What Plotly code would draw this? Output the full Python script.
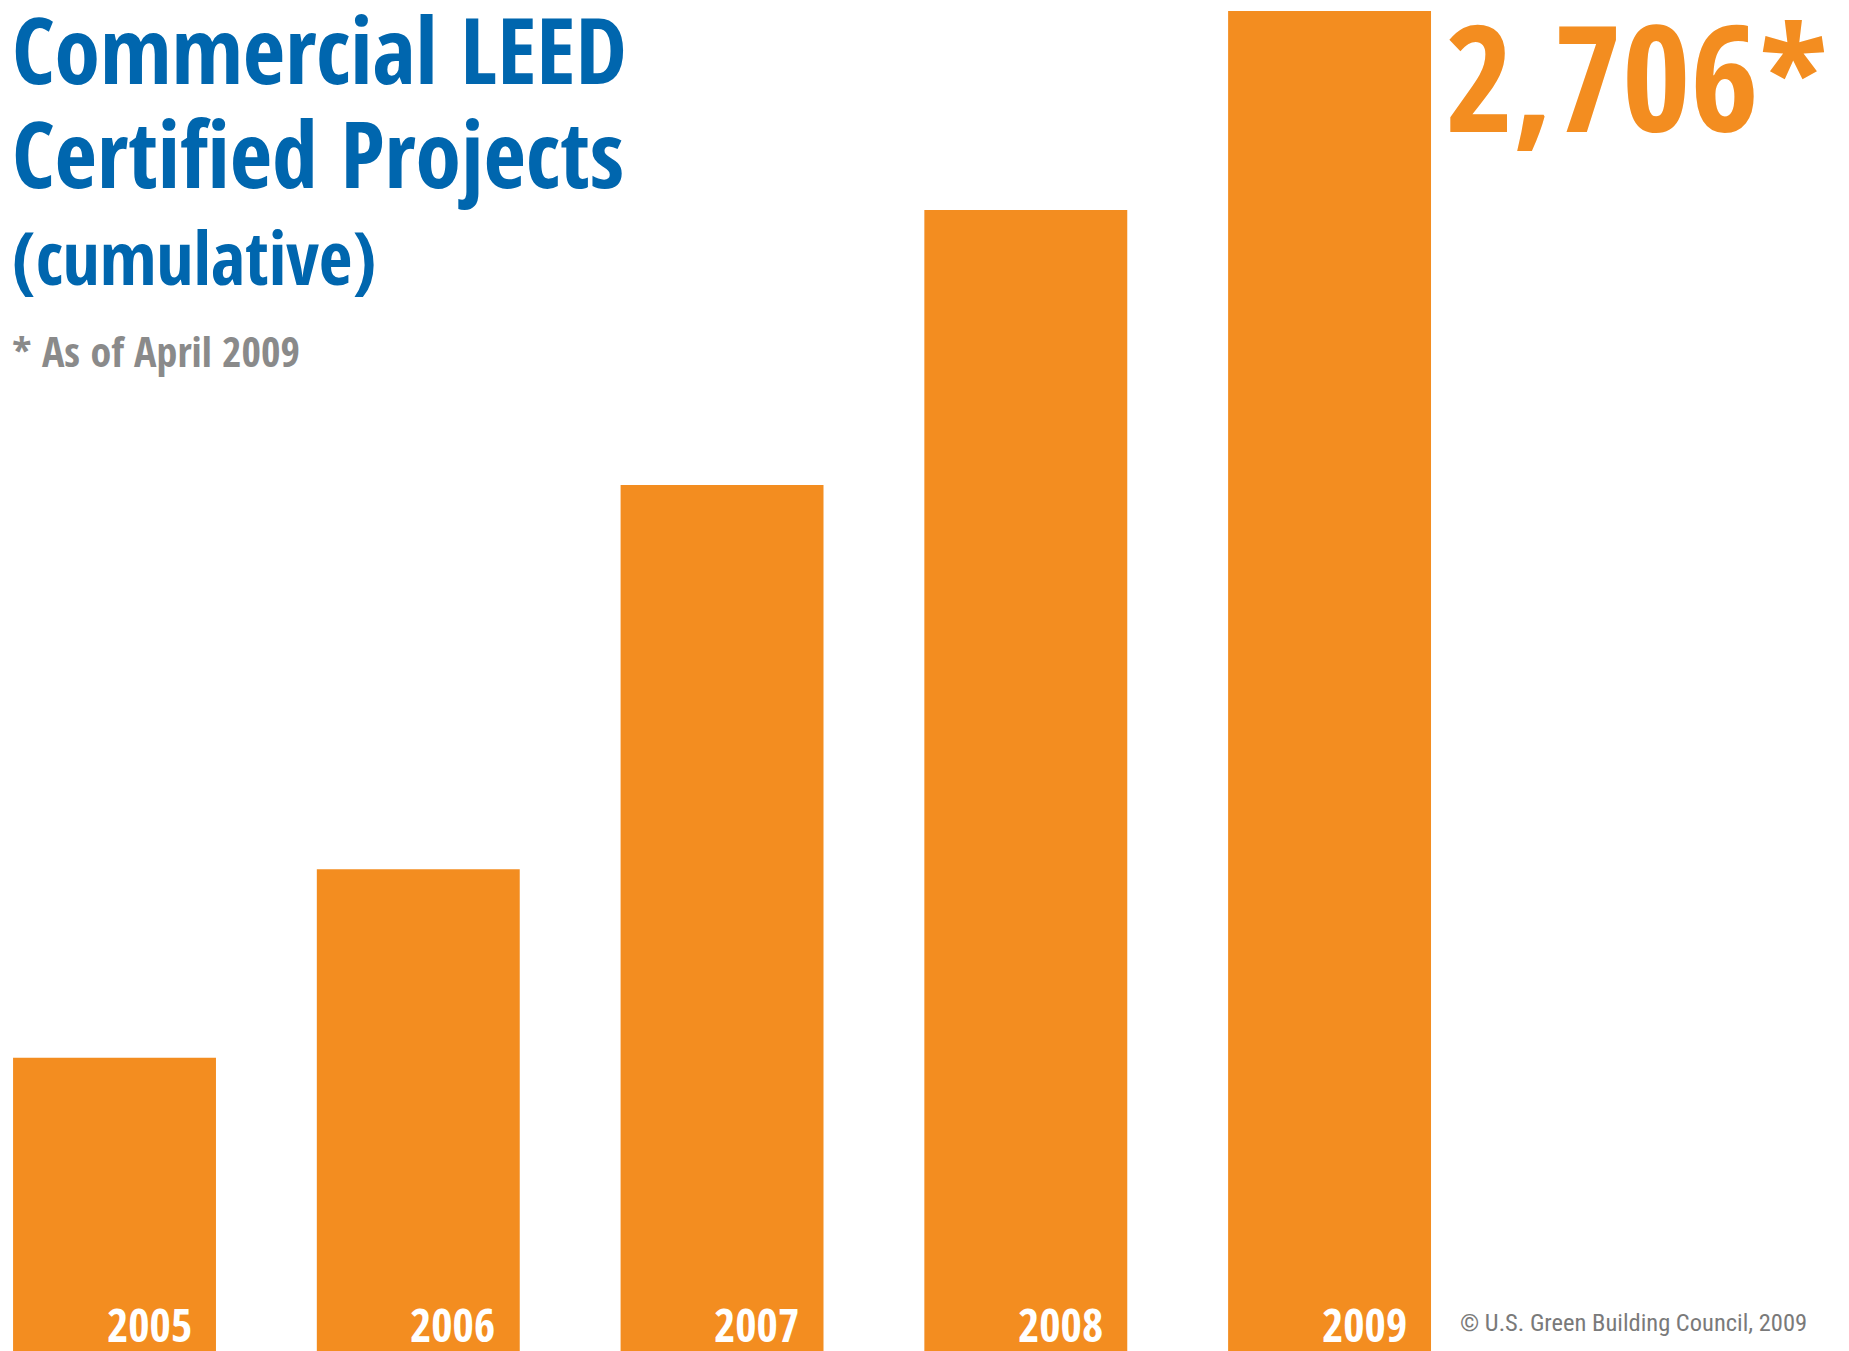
import plotly.graph_objects as go

years = ["2005", "2006", "2007", "2008", "2009"]
projects = [592, 973, 1749, 2304, 2706]

W, H = 1849, 1351
ORANGE = "#F38D20"
BLUE = "#0066AE"
GRAY = "#8A8A8A"
FONT = "Open Sans Condensed"
THIN = "Roboto Condensed"

fig = go.Figure()
fig.add_trace(go.Bar(
    x=years, y=projects,
    marker=dict(color=ORANGE, line=dict(width=0)),
    hoverinfo="x+y",
))

annotations = []
# year labels inside bars (positioned on category index)
for i, yr in enumerate(years):
    annotations.append(dict(
        x=i, y=0, xref="x", yref="y", text="<b>" + yr + "</b>", showarrow=False,
        xanchor="right", yanchor="bottom", xshift=79, yshift=-6,
        font=dict(family=FONT, size=46, color="white"),
    ))


def px(x):
    return x / W


def py(y):
    return 1 - y / H


annotations += [
    dict(x=px(10), y=py(113), xref="paper", yref="paper", text="<b>Commercial LEED</b>",
         showarrow=False, xanchor="left", yanchor="bottom",
         font=dict(family=FONT, size=92, color=BLUE)),
    dict(x=px(10), y=py(217), xref="paper", yref="paper", text="<b>Certified Projects</b>",
         showarrow=False, xanchor="left", yanchor="bottom",
         font=dict(family=FONT, size=92, color=BLUE)),
    dict(x=px(10), y=py(308), xref="paper", yref="paper", text="<b>(cumulative)</b>",
         showarrow=False, xanchor="left", yanchor="bottom",
         font=dict(family=FONT, size=73, color=BLUE)),
    dict(x=px(10), y=py(381), xref="paper", yref="paper", text="<b>* As of April 2009</b>",
         showarrow=False, xanchor="left", yanchor="bottom",
         font=dict(family=FONT, size=42, color=GRAY)),
    dict(x=px(1443), y=py(177), xref="paper", yref="paper", text="<b>2,706*</b>",
         showarrow=False, xanchor="left", yanchor="bottom",
         font=dict(family=FONT, size=148, color=ORANGE)),
    dict(x=px(1458), y=py(1339), xref="paper", yref="paper",
         text="© U.S. Green Building Council, 2009",
         showarrow=False, xanchor="left", yanchor="bottom",
         font=dict(family=THIN, size=24.5, color="#7A7A7A")),
]

fig.update_layout(
    width=W, height=H,
    margin=dict(l=0, r=0, t=0, b=0),
    paper_bgcolor="white", plot_bgcolor="white",
    bargap=0.332,
    showlegend=False,
    xaxis=dict(visible=False, range=[-0.377, 5.710], type="category"),
    yaxis=dict(visible=False, range=[0, 2728.2]),
    annotations=annotations,
)

fig.write_html("out.html", config={"displayModeBar": False},
               post_script="document.body.style.margin='0';")
